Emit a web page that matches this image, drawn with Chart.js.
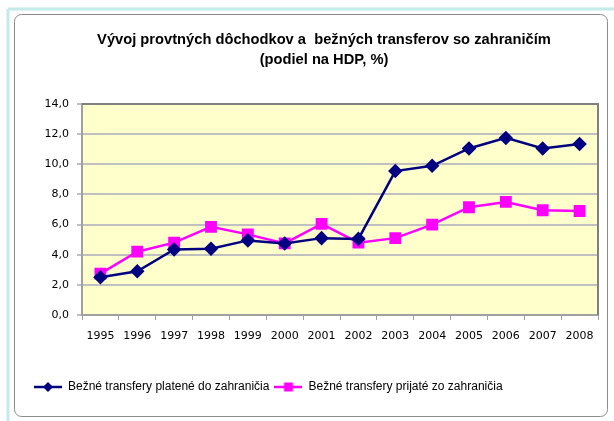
<!DOCTYPE html>
<html>
<head>
<meta charset="utf-8">
<script src="https://cdn.jsdelivr.net/npm/chart.js@4.4.1/dist/chart.umd.min.js"></script>
<style>
  html, body { margin: 0; padding: 0; background: #fff; }
  #wrap { position: relative; width: 614px; height: 421px; }
</style>
</head>
<body>
<div id="wrap"><canvas id="chart" width="614" height="421"></canvas></div>
<script>
const years = [ "1995", "1996", "1997", "1998", "1999", "2000", "2001", "2002", "2003", "2004", "2005", "2006", "2007", "2008" ];
const paidAbroad = [ 2.5, 2.9, 4.35, 4.4, 4.95, 4.75, 5.1, 5.05, 9.55, 9.9, 11.05, 11.75, 11.05, 11.35 ];
const receivedAbroad = [ 2.75, 4.2, 4.8, 5.85, 5.35, 4.75, 6.05, 4.8, 5.1, 6.0, 7.15, 7.5, 6.95, 6.9 ];
const titleLines = [ "Vývoj provtných dôchodkov a  bežných transferov so zahraničím", "(podiel na HDP, %)" ];
const seriesNames = [ "Bežné transfery platené do zahraničia", "Bežné transfery prijaté zo zahraničia" ];

const NAVY = "#000080";
const PINK = "#ff00ff";

// small legend icons: line with the marker in the middle
function legendIcon ( color, shape ) {
  const c = document.createElement( "canvas" );
  c.width = 28; c.height = 12;
  const g = c.getContext( "2d" );
  g.strokeStyle = color; g.lineWidth = 2.5;
  g.beginPath(); g.moveTo( 0, 6 ); g.lineTo( 28, 6 ); g.stroke();
  g.fillStyle = color;
  g.beginPath();
  if ( shape === "diamond" ) {
    g.moveTo( 14, 1 ); g.lineTo( 19, 6 ); g.lineTo( 14, 11 ); g.lineTo( 9, 6 ); g.closePath();
  } else {
    g.rect( 9.5, 1.5, 9, 9 );
  }
  g.fill();
  return c;
}

// yellow plot background, frame, and outer rounded border
const decor = {
  id: "decor",
  afterLayout ( chart ) {
    // title sits a little right of centre in the original
    if ( chart.titleBlock ) chart.titleBlock.left = 50;
  },
  beforeDraw ( chart ) {
    const { ctx, chartArea: a } = chart;
    ctx.save();
    ctx.fillStyle = "#ffffcc";
    ctx.fillRect( a.left, a.top, a.right - a.left, a.bottom - a.top );
    ctx.restore();
  },
  afterDatasetsDraw ( chart ) {
    const { ctx, chartArea: a } = chart;
    ctx.save();
    ctx.strokeStyle = "#808080";
    ctx.lineWidth = 2;
    ctx.beginPath();
    ctx.moveTo( a.left, a.top ); ctx.lineTo( a.right, a.top ); ctx.lineTo( a.right, a.bottom );
    ctx.stroke();
    ctx.restore();
  },
  afterDraw ( chart ) {
    const { ctx } = chart;
    ctx.save();
    ctx.strokeStyle = "#8a8a8a";
    ctx.lineWidth = 1;
    ctx.beginPath();
    ctx.roundRect( 14.5, 14.5, 593, 402, 7 );
    ctx.stroke();
    ctx.strokeStyle = "#c4eaea";
    ctx.lineWidth = 3;
    ctx.beginPath(); ctx.moveTo( 8, 9 ); ctx.lineTo( 8, 421 ); ctx.stroke();
    ctx.beginPath(); ctx.moveTo( 8, 9 ); ctx.lineTo( 614, 9 ); ctx.stroke();
    ctx.restore();
  }
};

const tickFont = { family: "'DejaVu Sans', sans-serif", size: 11 };

new Chart( document.getElementById( "chart" ), {
  type: "line",
  data: {
    labels: years,
    datasets: [ {
      label: seriesNames[ 0 ],
      data: paidAbroad,
      borderColor: NAVY,
      backgroundColor: NAVY,
      borderWidth: 2.5,
      pointStyle: "rectRot",
      pointRadius: 5.5,
      pointHoverRadius: 5.5,
      tension: 0
    }, {
      label: seriesNames[ 1 ],
      data: receivedAbroad,
      borderColor: PINK,
      backgroundColor: PINK,
      borderWidth: 2.5,
      pointStyle: "rect",
      pointRadius: 6.6,
      pointHoverRadius: 6.6,
      tension: 0
    } ]
  },
  options: {
    responsive: false,
    animation: false,
    layout: { padding: { left: 29, right: 16, top: 30, bottom: 18 } },
    plugins: {
      title: {
        display: true,
        text: titleLines,
        color: "#000",
        font: { family: "'Liberation Sans', Arial, sans-serif", size: 14.7, weight: "bold", lineHeight: 1.36 },
        padding: { top: 0, bottom: 34 }
      },
      legend: {
        position: "bottom",
        align: "start",
        labels: {
          usePointStyle: true,
          pointStyleWidth: 28,
          generateLabels: chart => chart.data.datasets.map( ( ds, i ) => ( {
            text: ds.label,
            pointStyle: legendIcon( ds.borderColor, i === 0 ? "diamond" : "square" ),
            datasetIndex: i,
            fontColor: "#000",
            lineWidth: 0
          } ) ),
          font: { family: "'Liberation Sans', Arial, sans-serif", size: 12 },
          color: "#000",
          padding: 5
        }
      },
      tooltip: { enabled: false }
    },
    scales: {
      x: {
        offset: true,
        afterFit: s => { s.height = 61; },
        grid: { display: true, offset: true, drawOnChartArea: false, drawTicks: true, tickLength: 5, color: "#a0a0a0", lineWidth: 1 },
        border: { color: "#a0a0a0", width: 2 },
        ticks: { color: "#000", font: tickFont, maxRotation: 0, autoSkip: false, padding: 10 }
      },
      y: {
        min: 0,
        max: 14,
        afterFit: s => { s.width = 53; },
        grid: { color: "#c0c0c0", lineWidth: 2, drawTicks: true, tickLength: 5 },
        border: { color: "#a0a0a0", width: 2 },
        ticks: {
          stepSize: 2,
          color: "#000",
          font: tickFont,
          padding: 8,
          callback: v => v.toFixed( 1 ).replace( ".", "," )
        }
      }
    }
  },
  plugins: [ decor ]
} );
</script>
</body>
</html>
